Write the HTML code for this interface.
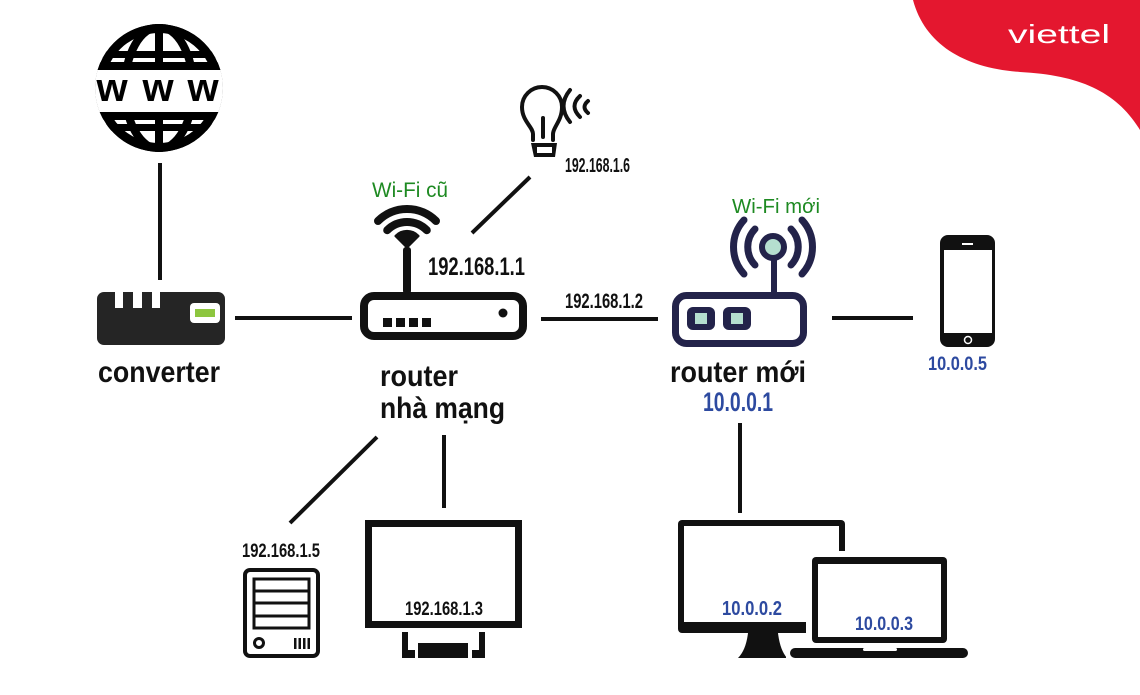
<!DOCTYPE html>
<html>
<head>
<meta charset="utf-8">
<style>
html,body{margin:0;padding:0;background:#fff;}
body{width:1140px;height:695px;overflow:hidden;}
svg{display:block;}
text{font-family:"Liberation Sans","Noto Sans CJK SC",sans-serif;}
</style>
</head>
<body>
<svg width="1140" height="695" viewBox="0 0 1140 695" xmlns="http://www.w3.org/2000/svg">
  <rect width="1140" height="695" fill="#fff"/>

  <!-- Viettel corner -->
  <path d="M913,0 C925,45 965,68 1020,72 C1080,75 1117,92 1140,130 L1140,0 Z" fill="#e4172f"/>
  <text x="1008" y="43" font-size="26" fill="#fff" textLength="102" lengthAdjust="spacingAndGlyphs">viettel</text>

  <!-- Globe -->
  <defs>
    <clipPath id="gc"><circle cx="159" cy="88" r="64"/></clipPath>
  </defs>
  <g clip-path="url(#gc)">
    <circle cx="159" cy="88" r="59.5" fill="none" stroke="#000" stroke-width="9"/>
    <ellipse cx="159" cy="88" rx="34" ry="61" fill="none" stroke="#000" stroke-width="8"/>
    <rect x="155" y="20" width="8" height="140" fill="#000"/>
    <rect x="90" y="51" width="140" height="7" fill="#000"/>
    <rect x="90" y="62" width="140" height="8" fill="#000"/>
    <rect x="90" y="112" width="140" height="8" fill="#000"/>
    <rect x="90" y="124" width="140" height="7" fill="#000"/>
    <rect x="90" y="70" width="140" height="42" fill="#fff"/>
  </g>
  <text x="112" y="101" font-size="40" font-weight="bold" text-anchor="middle" fill="#000">w</text>
  <text x="158" y="101" font-size="40" font-weight="bold" text-anchor="middle" fill="#000">w</text>
  <text x="203" y="101" font-size="40" font-weight="bold" text-anchor="middle" fill="#000">w</text>

  <!-- connector lines -->
  <g stroke="#111" stroke-width="4" fill="none">
    <line x1="160" y1="163" x2="160" y2="280"/>
    <line x1="235" y1="318" x2="352" y2="318"/>
    <line x1="472" y1="233" x2="530" y2="177"/>
    <line x1="541" y1="319" x2="658" y2="319"/>
    <line x1="832" y1="318" x2="913" y2="318"/>
    <line x1="377" y1="437" x2="290" y2="523"/>
    <line x1="444" y1="435" x2="444" y2="508"/>
    <line x1="740" y1="423" x2="740" y2="513"/>
  </g>

  <!-- Converter -->
  <rect x="97" y="292" width="128" height="53" rx="7" fill="#252525"/>
  <rect x="115" y="288" width="8" height="20" fill="#fff"/>
  <rect x="133" y="288" width="9" height="20" fill="#fff"/>
  <rect x="152" y="288" width="8" height="20" fill="#fff"/>
  <rect x="190" y="303" width="30" height="20" rx="4" fill="#fff"/>
  <rect x="195" y="309" width="20" height="8" fill="#8dc63f"/>
  <text x="98" y="382" font-size="30" font-weight="bold" fill="#111" textLength="122" lengthAdjust="spacingAndGlyphs">converter</text>

  <!-- Router nhà mạng -->
  <rect x="364" y="296" width="159" height="40" rx="10" fill="none" stroke="#111" stroke-width="8"/>
  <rect x="383" y="318" width="9" height="9" fill="#111"/>
  <rect x="396" y="318" width="9" height="9" fill="#111"/>
  <rect x="409" y="318" width="9" height="9" fill="#111"/>
  <rect x="422" y="318" width="9" height="9" fill="#111"/>
  <circle cx="503" cy="313" r="4.5" fill="#111"/>
  <rect x="403" y="247" width="8" height="47" rx="3" fill="#111"/>
  <!-- wifi old -->
  <path d="M378,221 A41,41 0 0 1 436,221" fill="none" stroke="#111" stroke-width="8" stroke-linecap="round"/>
  <path d="M387.2,230.2 A28,28 0 0 1 426.8,230.2" fill="none" stroke="#111" stroke-width="8" stroke-linecap="round"/>
  <path d="M407,247 L396,236 A15.5,15.5 0 0 1 418,236 Z" fill="#111" stroke="#111" stroke-width="3" stroke-linejoin="round"/>
  <text x="372" y="197" font-size="21" fill="#1e8a22" textLength="76" lengthAdjust="spacingAndGlyphs">Wi-Fi cũ</text>
  <text x="428" y="275" font-size="25" font-weight="bold" fill="#111" textLength="97" lengthAdjust="spacingAndGlyphs">192.168.1.1</text>
  <text x="380" y="386" font-size="30" font-weight="bold" fill="#111" textLength="78" lengthAdjust="spacingAndGlyphs">router</text>
  <text x="380" y="418" font-size="30" font-weight="bold" fill="#111" textLength="125" lengthAdjust="spacingAndGlyphs">nhà mạng</text>

  <!-- Bulb -->
  <g fill="none" stroke="#111" stroke-width="4" stroke-linecap="round">
    <path d="M533,140 L533,134 C533,127 522,121 522,107 A20,20 0 0 1 562,107 C562,121 553,127 553,134 L553,140"/>
    <line x1="543" y1="118" x2="543" y2="137"/>
    <path d="M570,90 Q557,106 570,122"/>
    <path d="M580,96 Q569,106 580,117"/>
    <path d="M588,101 Q581,107 588,113"/>
  </g>
  <path d="M531,143 L557,143 L555,157 L534,157 Z" fill="#111"/>
  <rect x="537" y="147" width="15" height="6" fill="#fff"/>
  <text x="565" y="172" font-size="20" font-weight="bold" fill="#111" textLength="65" lengthAdjust="spacingAndGlyphs">192.168.1.6</text>
  <text x="565" y="308" font-size="21" font-weight="bold" fill="#111" textLength="78" lengthAdjust="spacingAndGlyphs">192.168.1.2</text>

  <!-- Router mới -->
  <rect x="675.5" y="295.5" width="128" height="48" rx="11" fill="none" stroke="#23234a" stroke-width="7"/>
  <rect x="687" y="307" width="28" height="23" rx="6" fill="#23234a"/>
  <rect x="695" y="313" width="12" height="11" fill="#b5dfcf"/>
  <rect x="723" y="307" width="28" height="23" rx="6" fill="#23234a"/>
  <rect x="731" y="313" width="12" height="11" fill="#b5dfcf"/>
  <rect x="771" y="255" width="6" height="40" fill="#23234a"/>
  <circle cx="773" cy="247" r="11" fill="#b5dfcf" stroke="#23234a" stroke-width="6"/>
  <g fill="none" stroke="#23234a" stroke-width="7" stroke-linecap="round">
    <path d="M755,229 A26,26 0 0 0 755,265"/>
    <path d="M791,229 A26,26 0 0 1 791,265"/>
    <path d="M744,220 A40,40 0 0 0 744,274"/>
    <path d="M802,220 A40,40 0 0 1 802,274"/>
  </g>
  <text x="732" y="213" font-size="20" fill="#1e8a22" textLength="88" lengthAdjust="spacingAndGlyphs">Wi-Fi mới</text>
  <text x="670" y="382" font-size="30" font-weight="bold" fill="#111" textLength="136" lengthAdjust="spacingAndGlyphs">router mới</text>
  <text x="703" y="411" font-size="27" font-weight="bold" fill="#2d4aa0" textLength="70" lengthAdjust="spacingAndGlyphs">10.0.0.1</text>

  <!-- Phone -->
  <rect x="940" y="235" width="55" height="112" rx="8" fill="#111"/>
  <rect x="944" y="250" width="48" height="83" fill="#fff"/>
  <circle cx="968" cy="340" r="3.5" fill="none" stroke="#fff" stroke-width="1.5"/>
  <rect x="962" y="243" width="11" height="2" fill="#fff"/>
  <text x="928" y="370" font-size="19" font-weight="bold" fill="#2d4aa0" textLength="59" lengthAdjust="spacingAndGlyphs">10.0.0.5</text>

  <!-- Server -->
  <rect x="245" y="570" width="73" height="86" rx="5" fill="none" stroke="#111" stroke-width="4"/>
  <rect x="254" y="579" width="55" height="49" fill="none" stroke="#111" stroke-width="3"/>
  <line x1="254" y1="591" x2="309" y2="591" stroke="#111" stroke-width="3"/>
  <line x1="254" y1="603" x2="309" y2="603" stroke="#111" stroke-width="3"/>
  <line x1="254" y1="616" x2="309" y2="616" stroke="#111" stroke-width="3"/>
  <circle cx="259" cy="643" r="4.5" fill="none" stroke="#111" stroke-width="3"/>
  <rect x="294" y="638" width="2.5" height="11" fill="#111"/>
  <rect x="298.5" y="638" width="2.5" height="11" fill="#111"/>
  <rect x="303" y="638" width="2.5" height="11" fill="#111"/>
  <rect x="307.5" y="638" width="2.5" height="11" fill="#111"/>
  <text x="242" y="557" font-size="19" font-weight="bold" fill="#111" textLength="78" lengthAdjust="spacingAndGlyphs">192.168.1.5</text>

  <!-- Monitor 192.168.1.3 -->
  <rect x="368.5" y="523.5" width="150" height="101" fill="none" stroke="#111" stroke-width="7"/>
  <path d="M402,632 L408,632 L408,650 L415,650 L415,658 L402,658 Z" fill="#111"/>
  <rect x="418" y="643" width="50" height="15" fill="#111"/>
  <path d="M485,632 L479,632 L479,650 L472,650 L472,658 L485,658 Z" fill="#111"/>
  <text x="405" y="615" font-size="19" font-weight="bold" fill="#111" textLength="78" lengthAdjust="spacingAndGlyphs">192.168.1.3</text>

  <!-- Desktop monitor -->
  <rect x="678" y="520" width="167" height="113" rx="4" fill="#111"/>
  <rect x="684" y="526" width="155" height="96" fill="#fff"/>
  <path d="M748,633 L778,633 Q780,650 787,658 L738,658 Q746,650 748,633 Z" fill="#111"/>
  <!-- Laptop -->
  <rect x="806" y="551" width="147" height="97" fill="#fff"/>
  <rect x="812" y="557" width="135" height="86" rx="4" fill="#111"/>
  <rect x="818" y="564" width="123" height="73" fill="#fff"/>
  <rect x="786" y="645" width="186" height="16" fill="#fff"/>
  <rect x="790" y="648" width="178" height="10" rx="5" fill="#111"/>
  <rect x="863" y="648" width="34" height="3" rx="1.5" fill="#fff"/>
  <text x="722" y="615" font-size="20" font-weight="bold" fill="#2d4aa0" textLength="60" lengthAdjust="spacingAndGlyphs">10.0.0.2</text>
  <text x="855" y="630" font-size="19" font-weight="bold" fill="#2d4aa0" textLength="58" lengthAdjust="spacingAndGlyphs">10.0.0.3</text>
</svg>
</body>
</html>
